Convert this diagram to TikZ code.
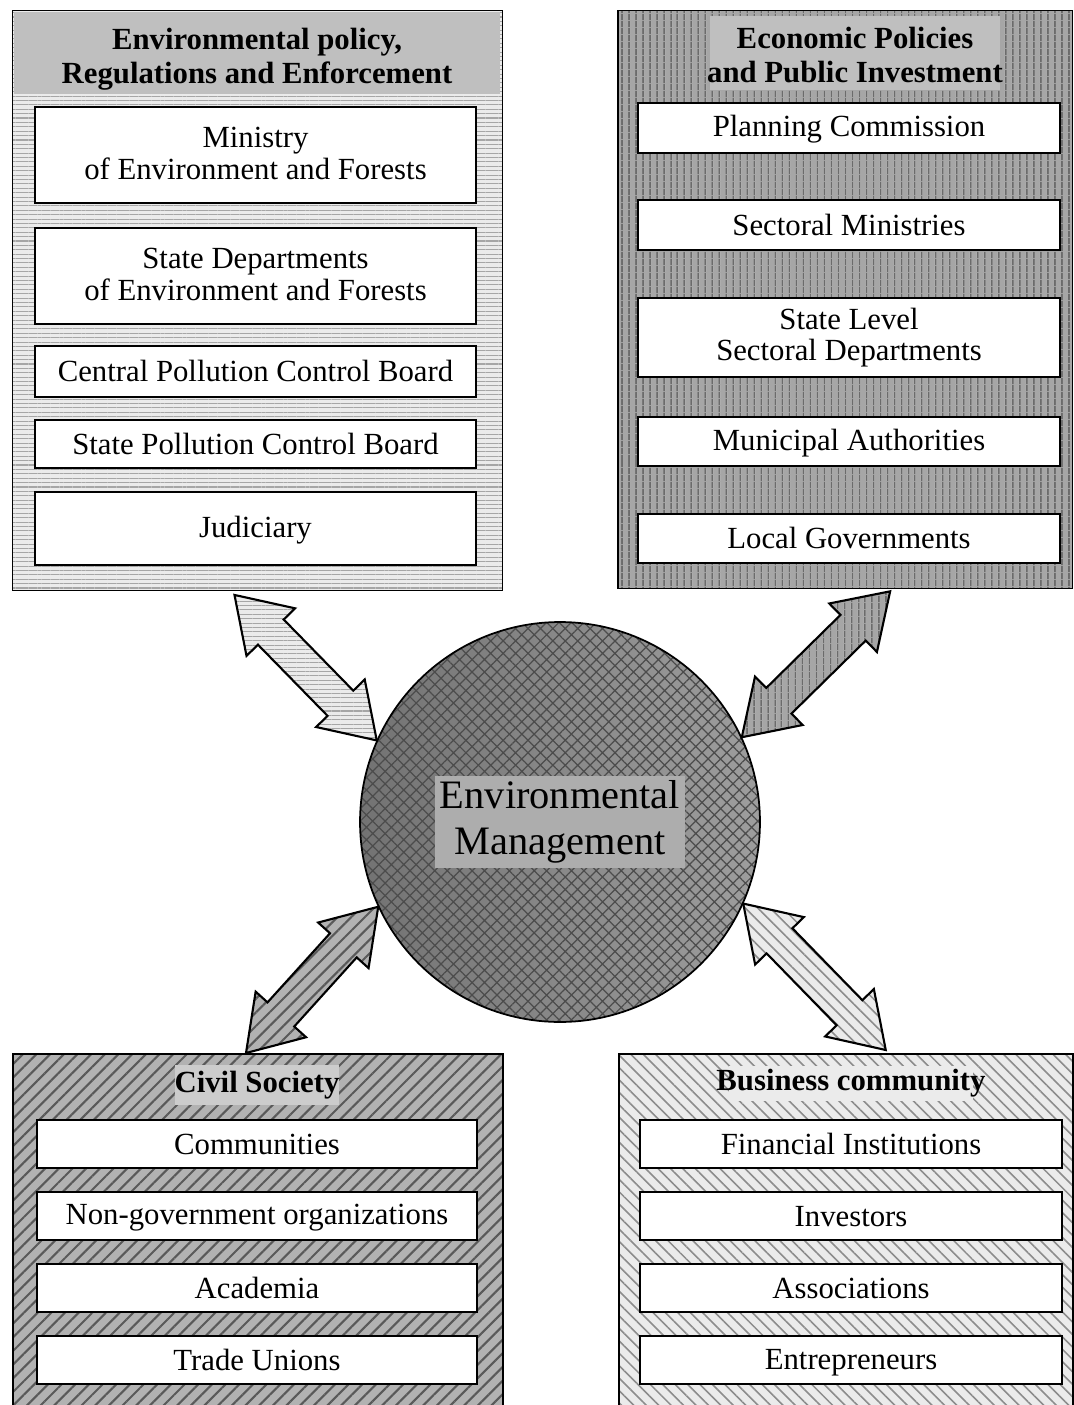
\documentclass[tikz,border=0pt]{standalone}
\usepackage{fontspec}
\setmainfont{Liberation Serif}
\usetikzlibrary{calc,patterns.meta}

\newcommand{\itemstrut}{\rule[-2.2pt]{0pt}{16.2pt}}
\newcommand{\blockarrow}[3]{%
  \path (#2) coordinate (ba-a) (#3) coordinate (ba-b);
  \coordinate (ba-h1) at ($(ba-a)!1.04cm!(ba-b)$);
  \coordinate (ba-h2) at ($(ba-b)!1.04cm!(ba-a)$);
  \draw[#1] (ba-a) -- ($(ba-h1)!0.68cm!90:(ba-b)$) -- ($(ba-h1)!0.36cm!90:(ba-b)$)
    -- ($(ba-h2)!0.36cm!-90:(ba-a)$) -- ($(ba-h2)!0.68cm!-90:(ba-a)$) -- (ba-b)
    -- ($(ba-h2)!0.68cm!90:(ba-a)$) -- ($(ba-h2)!0.36cm!90:(ba-a)$)
    -- ($(ba-h1)!0.36cm!-90:(ba-b)$) -- ($(ba-h1)!0.68cm!-90:(ba-b)$) -- cycle;
}

\tikzset{
  panel/.style={draw, line width=0.9pt, anchor=north west, inner sep=0pt},
  item/.style={draw, fill=white, line width=0.9pt, align=center, inner sep=0pt,
    font=\fontsize{17.5}{18}\selectfont,
    execute at begin node={\itemstrut}, execute at end node={\itemstrut}},
  headtext/.style={align=center, inner sep=2pt, font=\fontsize{17.5}{19.5}\selectfont\bfseries},
  envfill/.style={preaction={fill=black!8}, pattern={Lines[angle=0,distance=2.5pt,line width=0.6pt]}, pattern color=black!35},
  econfill/.style={preaction={fill=black!35}, pattern={Lines[angle=90,distance=4pt,line width=0.8pt]}, pattern color=black!70},
  civilfill/.style={preaction={fill=black!30}, pattern={Lines[angle=45,distance=5.5pt,line width=1.2pt]}, pattern color=black!65},
  bizfill/.style={preaction={fill=black!8}, pattern={Lines[angle=-45,distance=5pt,line width=0.9pt]}, pattern color=black!45},
  dblarrow/.style={line width=1.2pt, line join=miter},
}

\begin{document}
\begin{tikzpicture}[x=0.02cm, y=-0.02cm]
  \useasboundingbox (0,0) rectangle (1073,1405);

  \node[panel, envfill, minimum width=9.8cm, minimum height=11.6cm] (envpanel) at (12,10) {};
  \node[fill=black!25, inner sep=0pt, minimum width=9.74cm, minimum height=1.66cm] (envband) at (257,53) {};
  \node[headtext] (envhead) at (257,59) {Environmental policy,\\Regulations and Enforcement};
  \node[item, minimum width=8.82cm, minimum height=1.92cm] (moef) at (255.5,155) {Ministry\\of Environment and Forests};
  \node[item, minimum width=8.82cm, minimum height=1.92cm] (sdef) at (255.5,276) {State Departments\\of Environment and Forests};
  \node[item, minimum width=8.82cm, minimum height=1.02cm] (cpcb) at (255.5,371.5) {Central Pollution Control Board};
  \node[item, minimum width=8.82cm, minimum height=0.96cm] (spcb) at (255.5,444) {State Pollution Control Board};
  \node[item, minimum width=8.82cm, minimum height=1.46cm] (judic) at (255.5,528.5) {Judiciary};

  \node[panel, econfill, minimum width=9.1cm, minimum height=11.56cm] (econpanel) at (617,10) {};
  \node[fill=black!25, inner sep=0pt, minimum width=5.8cm, minimum height=1.5cm] (econband) at (855,53) {};
  \node[headtext] (econhead) at (855,55) {Economic Policies\\and Public Investment};
  \node[item, minimum width=8.44cm, minimum height=1.0cm] (plan) at (849,128) {Planning Commission};
  \node[item, minimum width=8.44cm, minimum height=1.0cm] (secmin) at (849,225) {Sectoral Ministries};
  \node[item, minimum width=8.44cm, minimum height=1.58cm] (stdept) at (849,337.5) {State Level\\Sectoral Departments};
  \node[item, minimum width=8.44cm, minimum height=0.98cm] (munic) at (849,441.5) {Municipal Authorities};
  \node[item, minimum width=8.44cm, minimum height=0.98cm] (localgov) at (849,538.5) {Local Governments};

  \node[panel, civilfill, minimum width=9.8cm, minimum height=7.2cm] (civilpanel) at (12,1053) {};
  \node[fill=black!20, inner sep=0pt, minimum width=3.3cm, minimum height=0.8cm] (civilband) at (257,1085) {};
  \node[headtext] (civilhead) at (257,1085) {Civil Society};
  \node[item, minimum width=8.8cm, minimum height=0.96cm] (commun) at (257,1144) {Communities};
  \node[item, minimum width=8.8cm, minimum height=0.96cm] (ngo) at (257,1216) {Non-government organizations};
  \node[item, minimum width=8.8cm, minimum height=0.96cm] (acad) at (257,1288) {Academia};
  \node[item, minimum width=8.8cm, minimum height=0.96cm] (unions) at (257,1360) {Trade Unions};

  \node[panel, bizfill, minimum width=9.08cm, minimum height=7.2cm] (bizpanel) at (618,1053) {};
  \node[fill=black!8, inner sep=0pt, minimum width=4.9cm, minimum height=0.7cm] (bizband) at (851,1083) {};
  \node[headtext] (bizhead) at (851,1083) {Business community};
  \node[item, minimum width=8.44cm, minimum height=0.96cm] (fininst) at (851,1144) {Financial Institutions};
  \node[item, minimum width=8.44cm, minimum height=0.96cm] (invest) at (851,1216) {Investors};
  \node[item, minimum width=8.44cm, minimum height=0.96cm] (assoc) at (851,1288) {Associations};
  \node[item, minimum width=8.44cm, minimum height=0.96cm] (entrep) at (851,1360) {Entrepreneurs};

  \node[circle, draw, line width=1pt, minimum size=8cm, inner sep=0pt,
    preaction={left color=black!55, right color=black!38},
    pattern={Hatch[angle=45,distance=5pt,line width=0.7pt]}, pattern color=black!70] (envmgmt) at (560,822) {};
  \node[fill=black!32, align=center, inner sep=3pt, font=\fontsize{23}{26}\selectfont] (envtext) at (560,822) {Environmental\\Management};

  \blockarrow{dblarrow, envfill}{[shift={(-23,4)}]envpanel.south}{envmgmt.156}
  \blockarrow{dblarrow, econfill}{[shift={(45,2)}]econpanel.south}{envmgmt.25}
  \blockarrow{dblarrow, civilfill}{envmgmt.205}{[shift={(-12,0)}]civilpanel.north}
  \blockarrow{dblarrow, bizfill}{envmgmt.336}{[shift={(40,-3)}]bizpanel.north}
\end{tikzpicture}
\end{document}
